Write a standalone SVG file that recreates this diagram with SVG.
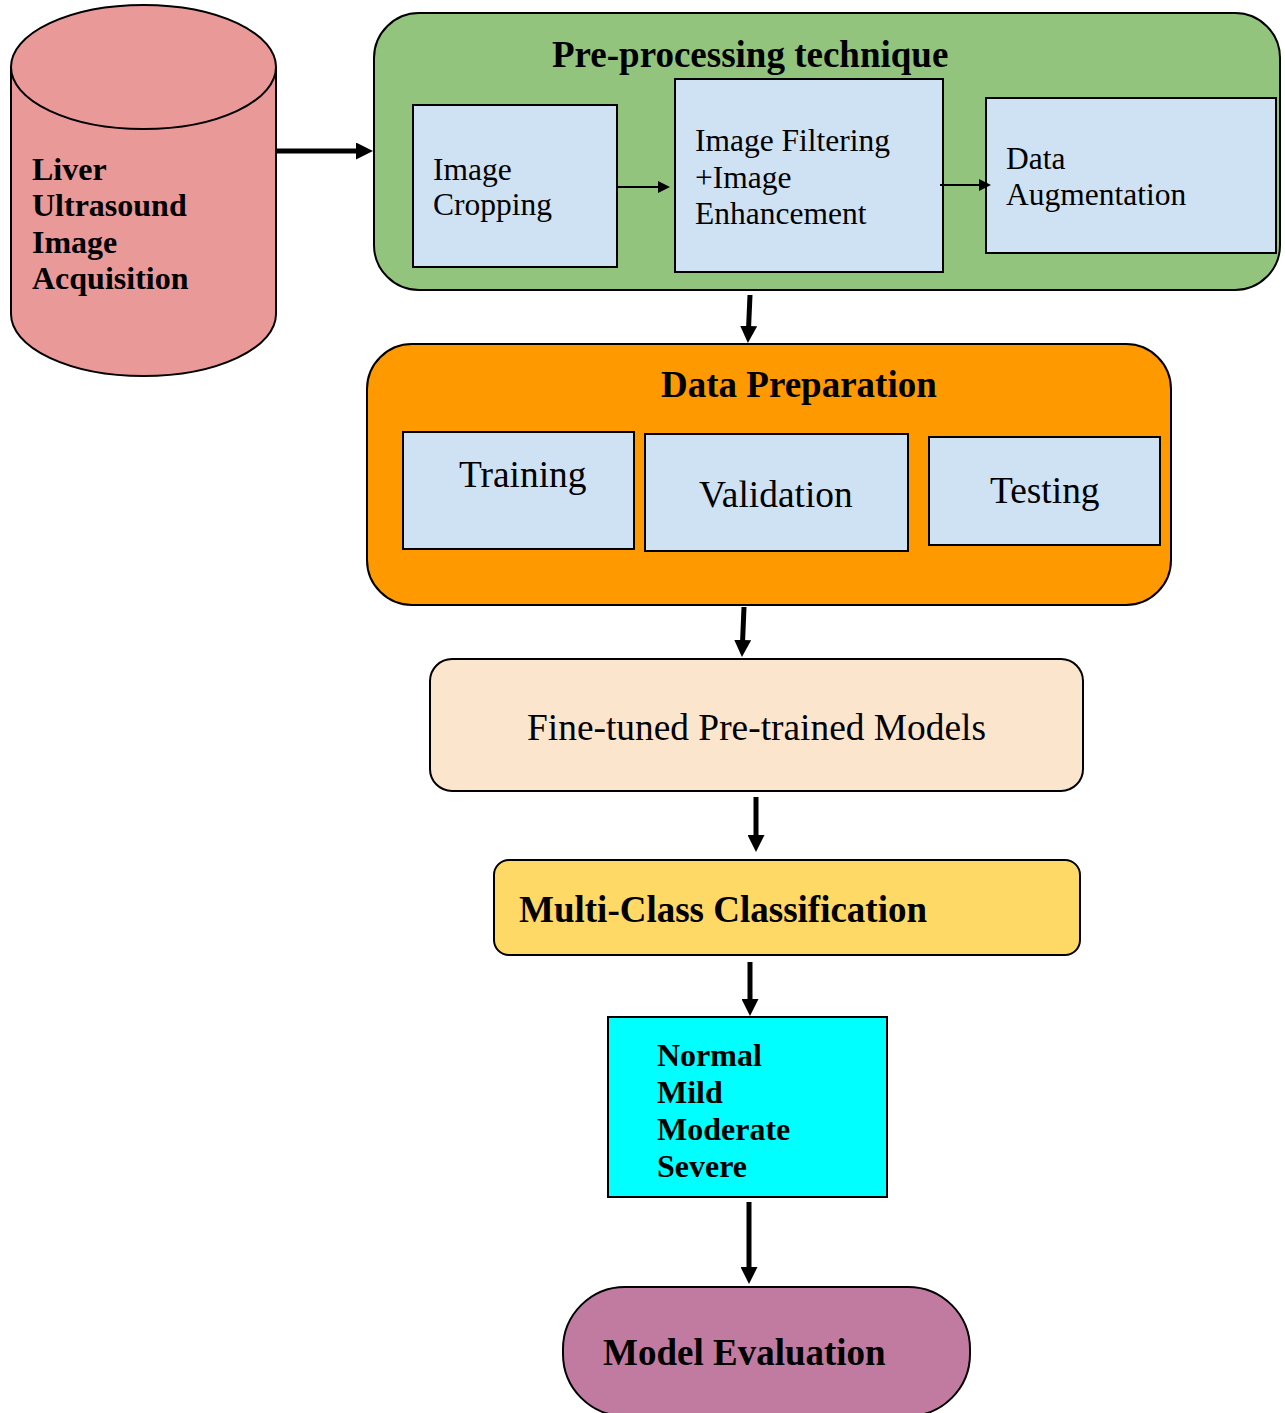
<svg xmlns="http://www.w3.org/2000/svg" width="1285" height="1413" viewBox="0 0 1285 1413">
<defs>
<style>
.t{font-family:"Liberation Serif","Times New Roman",serif;fill:#000}
.b{font-weight:bold}
.box{stroke:#000;stroke-width:2}
.inner{fill:#CFE2F3;stroke:#000;stroke-width:2}
.thick{stroke:#000;stroke-width:5;fill:none}
.thin{stroke:#000;stroke-width:2;fill:none}
</style>
<marker id="big" markerUnits="userSpaceOnUse" markerWidth="17" markerHeight="17" refX="1" refY="8.5" orient="auto" viewBox="0 0 17 17">
<path d="M0,0 L17,8.5 L0,17 z" fill="#000"/>
</marker>
<marker id="small" markerUnits="userSpaceOnUse" markerWidth="12" markerHeight="12" refX="1" refY="6" orient="auto" viewBox="0 0 12 12">
<path d="M0,0 L12,6 L0,12 z" fill="#000"/>
</marker>
</defs>

<g id="acquisition">
<path class="box" fill="#EA9999" d="M11,67 L11,314 A132.5,62 0 0 0 276,314 L276,67"/>
<ellipse class="box" fill="#EA9999" cx="143.5" cy="67" rx="132.5" ry="62"/>
<text class="t b" font-size="32" x="32" y="180">Liver</text>
<text class="t b" font-size="32" x="32" y="216">Ultrasound</text>
<text class="t b" font-size="32" x="32" y="253">Image</text>
<text class="t b" font-size="32" x="32" y="289">Acquisition</text>
</g>

<g id="preprocessing">
<rect class="box" fill="#93C47D" x="374" y="13" width="906" height="277" rx="45"/>
<text class="t b" font-size="37" x="552" y="67">Pre-processing technique</text>
</g>
<g id="cropping">
<rect class="inner" x="413" y="105" width="204" height="162"/>
<text class="t" font-size="31.5" x="433" y="180">Image</text>
<text class="t" font-size="31.5" x="433" y="215">Cropping</text>
</g>
<g id="filtering">
<rect class="inner" x="675" y="79" width="268" height="193"/>
<text class="t" font-size="31.5" x="695" y="151">Image Filtering</text>
<text class="t" font-size="31.5" x="695" y="188">+Image</text>
<text class="t" font-size="31.5" x="695" y="224">Enhancement</text>
</g>
<g id="augmentation">
<rect class="inner" x="986" y="98" width="290" height="155"/>
<text class="t" font-size="31.5" x="1006" y="169">Data</text>
<text class="t" font-size="31.5" x="1006" y="205">Augmentation</text>
</g>

<g id="preparation">
<rect class="box" fill="#FF9900" x="367" y="344" width="804" height="261" rx="45"/>
<text class="t b" font-size="37" x="661" y="397">Data Preparation</text>
</g>
<g id="training">
<rect class="inner" x="403" y="432" width="231" height="117"/>
<text class="t" font-size="37.4" x="459" y="487">Training</text>
</g>
<g id="validation">
<rect class="inner" x="645" y="434" width="263" height="117"/>
<text class="t" font-size="37.4" x="699" y="507">Validation</text>
</g>
<g id="testing">
<rect class="inner" x="929" y="437" width="231" height="108"/>
<text class="t" font-size="37.4" x="990" y="503">Testing</text>
</g>

<g id="finetuned">
<rect class="box" fill="#FCE5CD" x="430" y="659" width="653" height="132" rx="22"/>
<text class="t" font-size="37.4" x="527" y="740">Fine-tuned Pre-trained Models</text>
</g>

<g id="classification">
<rect class="box" fill="#FFD966" x="494" y="860" width="586" height="95" rx="15"/>
<text class="t b" font-size="37" x="519" y="922">Multi-Class Classification</text>
</g>

<g id="classes">
<rect class="box" fill="#00FFFF" x="608" y="1017" width="279" height="180"/>
<text class="t b" font-size="32" x="657" y="1066">Normal</text>
<text class="t b" font-size="32" x="657" y="1103">Mild</text>
<text class="t b" font-size="32" x="657" y="1140">Moderate</text>
<text class="t b" font-size="32" x="657" y="1177">Severe</text>
</g>

<g id="evaluation">
<rect class="box" fill="#C27BA0" x="563" y="1287" width="407" height="129" rx="62"/>
<text class="t b" font-size="37" x="603" y="1365">Model Evaluation</text>
</g>

<g id="connectors">
<line class="thick" x1="277" y1="151" x2="357" y2="151" marker-end="url(#big)"/>
<line class="thin" x1="618" y1="187" x2="659" y2="187" marker-end="url(#small)"/>
<line class="thin" x1="940" y1="185" x2="980" y2="185" marker-end="url(#small)"/>
<line class="thick" x1="750" y1="295" x2="748.6" y2="327" marker-end="url(#big)"/>
<line class="thick" x1="744" y1="607" x2="742.6" y2="641" marker-end="url(#big)"/>
<line class="thick" x1="756" y1="797" x2="756" y2="836" marker-end="url(#big)"/>
<line class="thick" x1="750" y1="962" x2="750" y2="1000" marker-end="url(#big)"/>
<line class="thick" x1="749" y1="1202" x2="749" y2="1268" marker-end="url(#big)"/>
</g>
</svg>
